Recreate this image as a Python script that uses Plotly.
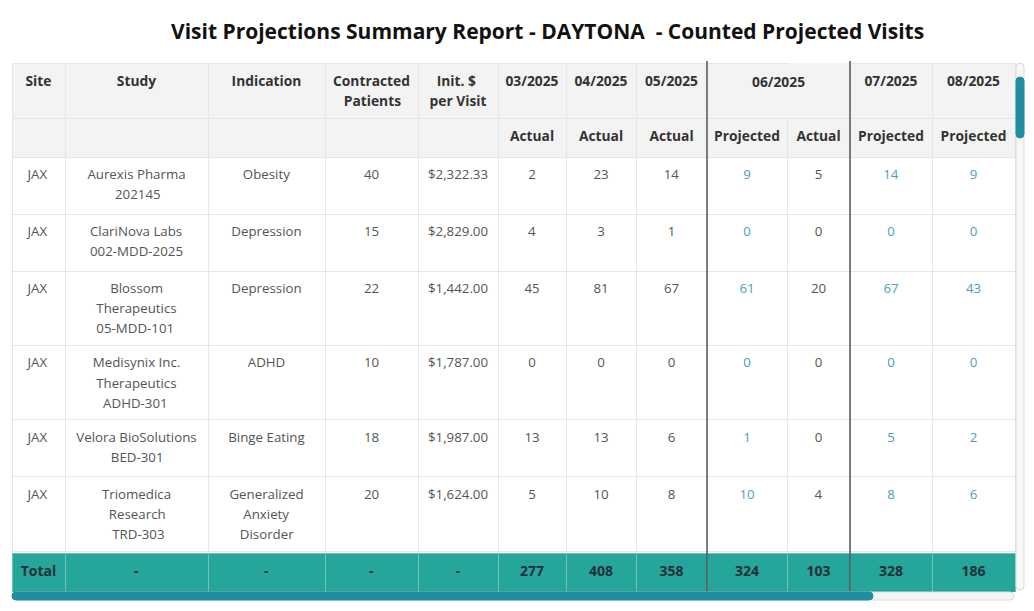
import plotly.graph_objects as go

title_text = "Visit Projections Summary Report - DAYTONA  - Counted Projected Visits"

info_headers = ["Site", "Study", "Indication", "Contracted<br>Patients", "Init. $<br>per Visit"]
months = ["03/2025", "04/2025", "05/2025", "06/2025", "07/2025", "08/2025"]
month_spans = [1, 1, 1, 2, 1, 1]
sub_labels = ["Actual", "Actual", "Actual", "Projected", "Actual", "Projected", "Projected"]

sites = ["JAX", "JAX", "JAX", "JAX", "JAX", "JAX"]
studies = ["Aurexis Pharma<br>202145", "ClariNova Labs<br>002-MDD-2025",
           "Blossom<br>Therapeutics<br>05-MDD-101", "Medisynix Inc.<br>Therapeutics<br>ADHD-301",
           "Velora BioSolutions<br>BED-301", "Triomedica<br>Research<br>TRD-303"]
indications = ["Obesity", "Depression", "Depression", "ADHD", "Binge Eating",
               "Generalized<br>Anxiety<br>Disorder"]
contracted = [40, 15, 22, 10, 18, 20]
init_per_visit = [2322.33, 2829.00, 1442.00, 1787.00, 1987.00, 1624.00]

actual_03 = [2, 4, 45, 0, 13, 5]
actual_04 = [23, 3, 81, 0, 13, 10]
actual_05 = [14, 1, 67, 0, 6, 8]
projected_06 = [9, 0, 61, 0, 1, 10]
actual_06 = [5, 0, 20, 0, 0, 4]
projected_07 = [14, 0, 67, 0, 5, 8]
projected_08 = [9, 0, 43, 0, 2, 6]

total_label = "Total"
info_totals = ["-", "-", "-", "-"]
visit_totals = [277, 408, 358, 324, 103, 328, 186]

# ---- styling ----
OFF = 8  # page body margin
W, H = 1034 - OFF, 611 - OFF
col_widths = [53, 143, 117, 93, 80, 68, 70, 71, 80, 63, 82, 83]
tbl_left, tbl_right, tbl_top, tbl_total, tbl_bottom = 12, 1015, 63, 553, 592
font = "Open Sans"
hdr_fill = "#f3f3f3"
hdr_text = "#333333"
body_text = "#555555"
proj_text = "#4a9fc0"
total_fill = "#26a69a"
total_text = "#22303a"
grid = "#e6e6e6"
total_grid = "#6cc4ba"
sep_color = "#555555"
scroll_teal = "#1f8fa0"

body_px, head_px = 13.3, 13.8      # glyph size
body_base, head_base = 15.5, 15.5  # sets line spacing of the table text

# rough Open Sans advance widths (units of 1/2048 em), used to centre wrapped lines
ADV = {" ": 532, "$": 1171, ",": 502, "-": 659, ".": 545,
       "A": 1296, "B": 1315, "C": 1264, "D": 1483, "E": 1149, "G": 1473, "H": 1511, "I": 563,
       "L": 1112, "M": 1817, "N": 1526, "P": 1260, "R": 1292, "S": 1126, "T": 1120, "V": 1237,
       "a": 1161, "b": 1268, "c": 987, "d": 1268, "e": 1149, "g": 1122, "h": 1276, "i": 528,
       "l": 528, "m": 1931, "n": 1276, "o": 1237, "p": 1268, "r": 846, "s": 981, "t": 739,
       "u": 1276, "v": 1061, "x": 1063, "y": 1063, "z": 969}


def adv(s):
    return sum(1171 if ch.isdigit() else ADV.get(ch, 1150) for ch in s)


def fmt(text, px, bold=False):
    lines = str(text).split("<br>")
    widest = max(adv(t) for t in lines)
    out = []
    for t in lines:
        pad = round((widest - adv(t)) / 2 / 532)
        s = f"<span style='font-size:{px}px'>{chr(160) * pad}{t}</span>"
        out.append(f"<b>{s}</b>" if bold else s)
    # a break keeps plotly from re-wrapping the text on its spaces
    return "<br>".join(out) + ("<br>" if len(lines) == 1 else "")


def X(px):
    return (px - OFF) / W


def Y(py):
    return 1 - (py - OFF) / H


# header row 1 (months, merged months left blank) and row 2 (Actual / Projected)
header_vals = [[fmt(h, head_px, True), ""] for h in info_headers]
merged = []
col = len(info_headers)
for m, span in zip(months, month_spans):
    if span == 1:
        header_vals.append([fmt(m, head_px, True)])
    else:
        header_vals += [[""] for _ in range(span)]
        merged.append((m, col, span))
    col += span
for i, sub in enumerate(sub_labels):
    header_vals[len(info_headers) + i].append(fmt(sub, head_px, True))

hdr_lines = [[grid, grid] for _ in header_vals]
for m, c0, span in merged:
    for c in range(c0 + 1, c0 + span):
        hdr_lines[c][0] = hdr_fill  # hide the inner border of a merged month cell

visit_cols = [actual_03, actual_04, actual_05, projected_06, actual_06, projected_07, projected_08]
info_cols = [sites, studies, indications, contracted, [f"${v:,.2f}" for v in init_per_visit]]
columns = info_cols + visit_cols

cell_vals, colors = [], []
for i, c in enumerate(columns):
    is_proj = i >= len(info_cols) and sub_labels[i - len(info_cols)] == "Projected"
    cell_vals.append([fmt(v, body_px) for v in c])
    colors.append([proj_text if is_proj else body_text] * len(c))

fig = go.Figure()
fig.add_trace(go.Table(
    domain=dict(x=[X(tbl_left), X(tbl_right)], y=[Y(tbl_total), Y(tbl_top)]),
    columnwidth=col_widths,
    header=dict(values=header_vals, height=39, fill_color=hdr_fill, align="center",
                line=dict(color=hdr_lines, width=1),
                font=dict(family=font, size=head_base, color=hdr_text)),
    cells=dict(values=cell_vals, height=57, fill_color="white", align="center",
               line=dict(color=grid, width=1),
               font=dict(family=font, size=body_base, color=colors)),
))

total_vals = [f"<b>{v}</b>" for v in [total_label] + info_totals + visit_totals]
fig.add_trace(go.Table(
    domain=dict(x=[X(tbl_left), X(tbl_right)], y=[Y(tbl_bottom), Y(tbl_total)]),
    columnwidth=col_widths,
    header=dict(values=total_vals, height=39, fill_color=total_fill, align="center",
                line=dict(color=total_grid, width=1),
                font=dict(family=font, size=14, color=total_text)),
    cells=dict(values=[[] for _ in total_vals]),
))

# column edges in pixels, derived from widths
edges = [tbl_left]
for w in col_widths:
    edges.append(edges[-1] + w * (tbl_right - tbl_left) / sum(col_widths))

annotations = []
for m, c0, span in merged:
    xc = (edges[c0] + edges[c0 + span]) / 2
    annotations.append(dict(text=f"<b>{m}</b>", x=X(xc), y=Y(81), xref="paper", yref="paper",
                            showarrow=False, xanchor="center", yanchor="middle",
                            font=dict(family=font, size=head_px, color=hdr_text)))

annotations.append(dict(text=f"<b>{title_text}</b>", x=X(547), y=Y(31), xref="paper",
                        yref="paper", showarrow=False, xanchor="center", yanchor="middle",
                        font=dict(family=font, size=21, color="#111111")))

shapes = []
# darker separators before the 06/2025 and 07/2025 groups
col = len(info_headers)
for span, m in zip(month_spans, months):
    if m in ("06/2025", "07/2025"):
        shapes.append(dict(type="line", xref="paper", yref="paper",
                           x0=X(edges[col]), x1=X(edges[col]), y0=Y(61), y1=Y(tbl_bottom),
                           line=dict(color=sep_color, width=1.5), layer="above"))
    col += span


def pill(x0, y0, x1, y1, color, line_color=None):
    r = min(x1 - x0, y1 - y0) / 2
    path = (f"M {X(x0 + r)} {Y(y0)} L {X(x1 - r)} {Y(y0)} Q {X(x1)} {Y(y0)} {X(x1)} {Y(y0 + r)} "
            f"L {X(x1)} {Y(y1 - r)} Q {X(x1)} {Y(y1)} {X(x1 - r)} {Y(y1)} "
            f"L {X(x0 + r)} {Y(y1)} Q {X(x0)} {Y(y1)} {X(x0)} {Y(y1 - r)} "
            f"L {X(x0)} {Y(y0 + r)} Q {X(x0)} {Y(y0)} {X(x0 + r)} {Y(y0)} Z")
    return dict(type="path", xref="paper", yref="paper", path=path, fillcolor=color,
                line=dict(color=line_color or color, width=1), layer="above")


# scrollbars
shapes.append(pill(1016, 63, 1024, 590, "#f7f7f7", "#d9d9d9"))
shapes.append(pill(1016, 77, 1024, 138, scroll_teal))
shapes.append(pill(12, 592, 1014, 600, "#f4f4f4", "#dddddd"))
shapes.append(pill(12, 592, 873, 600, scroll_teal))

fig.update_layout(
    width=W, height=H,
    margin=dict(l=0, r=0, t=0, b=0),
    paper_bgcolor="white",
    annotations=annotations,
    shapes=shapes,
    font=dict(family=font),
)

fig.write_html("out.html")
